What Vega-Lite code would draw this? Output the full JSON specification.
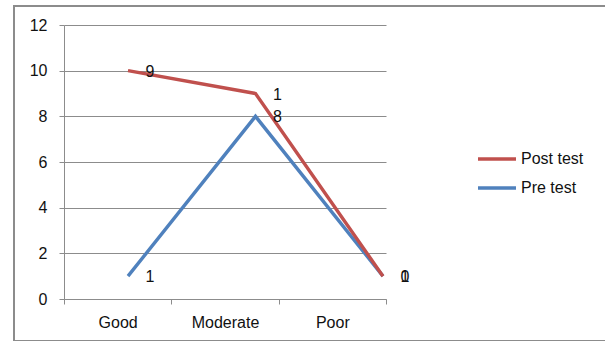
{
  "$schema": "https://vega.github.io/schema/vega-lite/v6.json",
  "autosize": {"type": "none"},
  "padding": {"left": 14, "top": 6, "right": 0, "bottom": 0},
  "width": 593,
  "height": 335,
  "background": "white",
  "config": {
    "view": {"stroke": "#8c8c8c", "strokeWidth": 2},
    "font": "Liberation Sans",
    "axis": {
      "labelFont": "Liberation Sans",
      "labelFontSize": 16,
      "labelColor": "#111111",
      "domainColor": "#8c8c8c",
      "tickColor": "#8c8c8c",
      "gridColor": "#8c8c8c",
      "title": null
    },
    "legend": {"labelFont": "Liberation Sans", "labelFontSize": 16, "labelColor": "#111111"}
  },
  "data": {
    "values": [
      {"category": "Good", "series": "Post test", "value": 10, "label": "9"},
      {"category": "Moderate", "series": "Post test", "value": 9, "label": "1"},
      {"category": "Poor", "series": "Post test", "value": 1, "label": "0"},
      {"category": "Good", "series": "Pre test", "value": 1, "label": "1"},
      {"category": "Moderate", "series": "Pre test", "value": 8, "label": "8"},
      {"category": "Poor", "series": "Pre test", "value": 1, "label": "1"}
    ]
  },
  "encoding": {
    "x": {
      "field": "category",
      "type": "nominal",
      "sort": ["Good", "Moderate", "Poor"],
      "scale": {"type": "band", "range": [50, 372], "paddingInner": 0, "paddingOuter": 0},
      "axis": {
        "offset": -42,
        "labelAngle": 0,
        "tickBand": "extent",
        "tickSize": 5,
        "labelPadding": 10,
        "grid": false,
        "domainWidth": 1
      }
    },
    "xOffset": {
      "field": "category",
      "type": "nominal",
      "sort": ["Good", "Moderate", "Poor"],
      "scale": {"type": "point", "range": [64, 104.3], "padding": 0}
    },
    "y": {
      "field": "value",
      "type": "quantitative",
      "scale": {"domain": [0, 12], "range": [293, 19], "nice": false, "zero": true},
      "axis": {
        "offset": -50,
        "values": [0, 2, 4, 6, 8, 10, 12],
        "tickSize": 5,
        "labelPadding": 12,
        "grid": true,
        "gridWidth": 1,
        "domainWidth": 1
      }
    }
  },
  "layer": [
    {
      "transform": [{"filter": "datum.series === 'Pre test'"}],
      "mark": {"type": "line", "strokeWidth": 3.4},
      "encoding": {
        "color": {
          "field": "series",
          "type": "nominal",
          "scale": {"domain": ["Post test", "Pre test"], "range": ["#C0504D", "#4F81BD"]},
          "legend": {
            "title": null,
            "orient": "none",
            "legendX": 462,
            "legendY": 132,
            "symbolType": "stroke",
            "symbolSize": 1444,
            "symbolStrokeWidth": 3.5,
            "rowPadding": -2,
            "labelOffset": 3
          }
        }
      }
    },
    {
      "transform": [{"filter": "datum.series === 'Post test'"}],
      "mark": {"type": "line", "strokeWidth": 3.4},
      "encoding": {
        "color": {"field": "series", "type": "nominal"}
      }
    },
    {
      "mark": {"type": "text", "dx": 22, "dy": 1, "align": "center", "baseline": "middle", "fontSize": 16, "font": "Liberation Sans", "color": "#111111"},
      "encoding": {
        "text": {"field": "label", "type": "nominal"}
      }
    }
  ]
}
